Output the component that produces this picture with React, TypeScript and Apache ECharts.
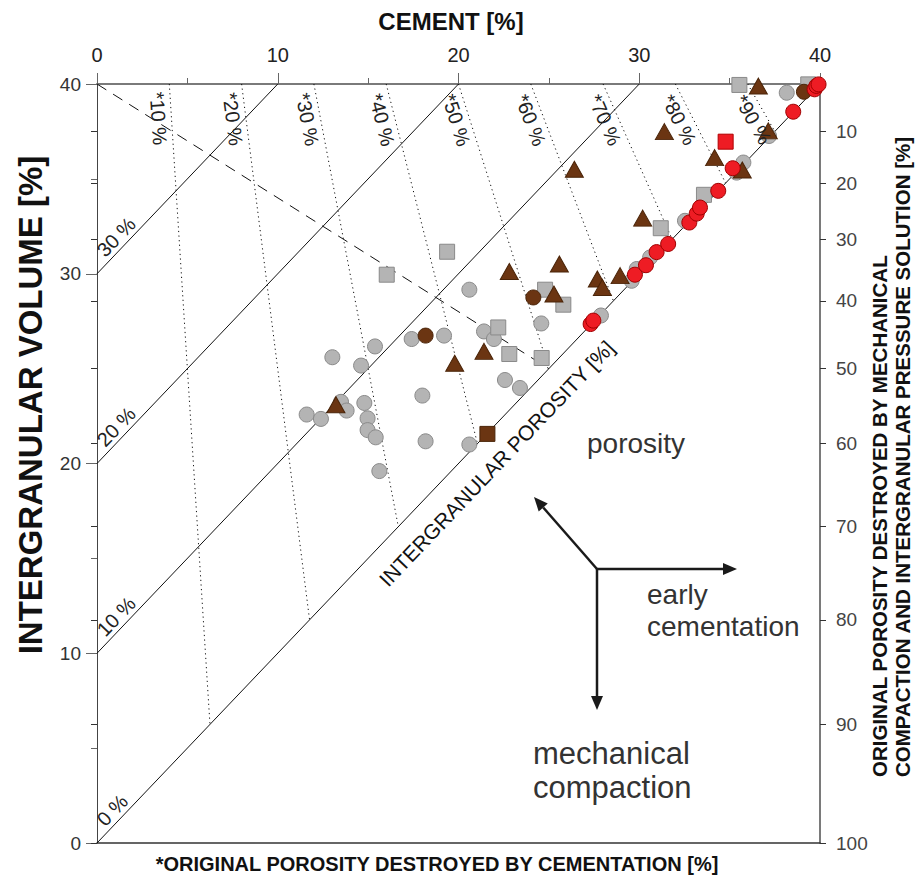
import React, { useEffect, useRef } from 'react';
import * as echarts from 'echarts';

const FONT = '"Liberation Sans", Arial, Helvetica, sans-serif';

// right axis: original porosity destroyed by compaction (non-linear, positions in IGV units)
const compactionTickValues = [37.5, 34.78, 31.82, 28.57, 25, 21.05, 16.67, 11.76, 6.25, 0];
const compactionTickLabels = ['10', '20', '30', '40', '50', '60', '70', '80', '90', '100'];

// solid intergranular porosity lines
const porosityLabels = ['0 %', '10 %', '20 %', '30 %'];
const porosityStarts = [[0, 0], [0, 10], [0, 20], [0, 30]];
const porosityEnds = [[40, 40], [30, 40], [20, 40], [10, 40]];

// dotted lines: original porosity destroyed by cementation
const cementLossLabels = ['*10 %', '*20 %', '*30 %', '*40 %', '*50 %', '*60 %', '*70 %', '*80 %', '*90 %'];
const cementLossTops = [[4, 40], [8, 40], [12, 40], [16, 40], [20, 40], [24, 40], [28, 40], [32, 40], [36, 40]];
const cementLossEnds = [[6.25, 6.25], [11.76, 11.76], [16.67, 16.67], [21.05, 21.05], [25, 25], [28.57, 28.57], [31.82, 31.82], [34.78, 34.78], [37.5, 37.5]];

// dashed line: equal loss by compaction and cementation
const equalLossLine = [[0, 40], [25, 25]];

// data points: [cement %, intergranular volume %]
const grayCircles = [
  [11.6, 22.58], [12.39, 22.35], [13.02, 25.6], [13.5, 23.25], [13.81, 22.79], [14.61, 25.16], [14.79, 23.19],
  [14.97, 22.38], [14.97, 21.76], [15.42, 21.38], [15.38, 26.17], [15.62, 19.6], [17.41, 26.56], [18.0, 23.58],
  [18.18, 21.17], [19.2, 26.74], [20.6, 29.16], [20.6, 21.0], [21.41, 26.96], [21.96, 26.56], [22.57, 24.4],
  [23.4, 23.98], [24.58, 27.38], [27.88, 27.8], [29.58, 29.63], [29.86, 30.25], [30.6, 30.86], [32.53, 32.79],
  [35.39, 35.33], [35.76, 35.86], [37.18, 37.26], [38.16, 39.54],
];
const graySquares = [
  [16.03, 29.95], [19.37, 31.16], [22.2, 27.17], [22.81, 25.77], [24.6, 25.56], [24.79, 29.16], [25.8, 28.37],
  [31.19, 32.4], [33.58, 34.16], [35.54, 39.95], [39.35, 39.98],
];
const brownTriangles = [
  [13.22, 23.1], [19.79, 25.28], [21.41, 25.91], [22.81, 30.12], [25.28, 28.93], [25.58, 30.51], [26.41, 35.51],
  [27.68, 29.72], [27.96, 29.28], [28.94, 29.9], [30.19, 32.93], [31.39, 37.49], [34.17, 36.12], [35.7, 35.47],
  [36.59, 39.89], [37.14, 37.53],
];
const brownCircles = [[18.18, 26.74], [24.14, 28.75], [39.11, 39.59]];
const brownSquares = [[21.6, 21.56]];
const redSquares = [[34.78, 36.96]];
const redCircles = [
  [27.31, 27.35], [27.46, 27.53], [29.76, 29.95], [30.37, 30.45], [30.96, 31.14], [31.6, 31.57], [32.77, 32.7],
  [33.18, 33.17], [33.36, 33.49], [34.37, 34.37], [35.17, 35.56], [38.52, 38.54], [39.7, 39.72], [39.8, 39.9],
  [39.92, 39.98],
];

function compactionLabel(v: number): string {
  let best = 0;
  let bd = Infinity;
  compactionTickValues.forEach((t, i) => {
    const d = Math.abs(t - v);
    if (d < bd) { bd = d; best = i; }
  });
  return compactionTickLabels[best];
}

function lineSeries(data: number[][], type: any) {
  return {
    type: 'line',
    xAxisIndex: 0,
    yAxisIndex: 0,
    data,
    symbol: 'none',
    silent: true,
    z: 1,
    lineStyle: { color: '#111', width: 1, type },
  };
}

function scatter(data: number[][], symbol: string, size: any, color: string, border: string, z: number) {
  return {
    type: 'scatter',
    xAxisIndex: 0,
    yAxisIndex: 0,
    data,
    symbol,
    symbolSize: size,
    clip: false,
    z,
    itemStyle: { color, borderColor: border, borderWidth: 1, opacity: 1 },
  };
}

export default function App() {
  const ref = useRef<HTMLDivElement>(null);
  useEffect(() => {
    if (!ref.current) return;
    const chart = echarts.init(ref.current, undefined, { renderer: 'svg' });
    const series: any[] = [];
    porosityStarts.forEach((s, i) => series.push(lineSeries([s, porosityEnds[i]], 'solid')));
    cementLossTops.forEach((t, i) => series.push(lineSeries([t, cementLossEnds[i]], [1.2, 3.4])));
    series.push(lineSeries(equalLossLine, [11, 8]));
    series.push(scatter(grayCircles, 'circle', 15, '#b4b4b4', '#8a8a8a', 3));
    series.push(scatter(graySquares, 'rect', 15, '#b4b4b4', '#8a8a8a', 4));
    series.push(scatter(brownTriangles, 'triangle', [18, 16], '#6b3512', '#4a2408', 5));
    series.push(scatter(brownCircles, 'circle', 15, '#6b3512', '#4a2408', 5));
    series.push(scatter(brownSquares, 'rect', 15, '#6b3512', '#4a2408', 5));
    series.push(scatter(redSquares, 'rect', 15, '#ee1c24', '#b00000', 6));
    series.push(scatter(redCircles, 'circle', 15, '#ee1c24', '#a00000', 7));

    const option: any = {
      animation: false,
      backgroundColor: '#ffffff',
      textStyle: { fontFamily: FONT },
      grid: { left: 97, top: 84, width: 723, height: 759 },
      xAxis: [
        {
          type: 'value', position: 'top', min: 0, max: 40, interval: 10,
          axisLine: { show: true, onZero: false, lineStyle: { color: '#7a7a7a', width: 2 } },
          axisTick: { show: true, inside: false, length: 11, lineStyle: { color: '#666', width: 1 } },
          minorTick: { show: true, splitNumber: 2, length: 6, lineStyle: { color: '#666', width: 1 } },
          splitLine: { show: false }, minorSplitLine: { show: false },
          axisLabel: { fontSize: 20, color: '#222', margin: 19, fontFamily: FONT },
        },
        {
          type: 'value', position: 'bottom', min: 0, max: 40,
          axisLine: { show: true, onZero: false, lineStyle: { color: '#333', width: 1.5 } },
          axisTick: { show: false }, axisLabel: { show: false }, splitLine: { show: false },
        },
      ],
      yAxis: [
        {
          type: 'value', position: 'left', min: 0, max: 40, interval: 10,
          axisLine: { show: true, onZero: false, lineStyle: { color: '#444', width: 1 } },
          axisTick: { show: true, length: 11, lineStyle: { color: '#666', width: 1 } },
          minorTick: { show: true, splitNumber: 2, length: 6, lineStyle: { color: '#666', width: 1 } },
          splitLine: { show: false },
          axisLabel: { fontSize: 19, color: '#333', margin: 16, fontFamily: FONT },
        },
        {
          type: 'value', position: 'right', min: 0, max: 40,
          axisLine: { show: true, onZero: false, lineStyle: { color: '#7a7a7a', width: 2 } },
          axisTick: { show: true, length: 6, customValues: compactionTickValues, lineStyle: { color: '#333', width: 1 } },
          axisLabel: {
            customValues: compactionTickValues, formatter: (v: number) => compactionLabel(v),
            fontSize: 19, color: '#444', margin: 16, fontFamily: FONT,
          },
          splitLine: { show: false },
        },
        {
          type: 'value', position: 'right', min: 0, max: 40,
          axisLine: { show: false },
          axisTick: { show: true, inside: true, length: 6, customValues: compactionTickValues, lineStyle: { color: '#333', width: 1 } },
          axisLabel: { show: false },
          splitLine: { show: false },
        },
      ],
      series,
    };
    chart.setOption(option);

    const toPx = (p: number[]) => chart.convertToPixel({ xAxisIndex: 0, yAxisIndex: 0 }, p) as number[];
    const txt = (x: number, y: number, text: string, font: string, fill: string, align: string, valign: string, rotation = 0, extra: any = {}) => ({
      type: 'text', x, y, rotation, z: 50, silent: true,
      style: { text, x: 0, y: 0, font, fill, align, verticalAlign: valign, textAlign: align, textVerticalAlign: valign, ...extra },
    });
    const g: any[] = [];

    // titles
    g.push(txt(451, 21, 'CEMENT [%]', `bold 24px ${FONT}`, '#111', 'center', 'middle'));
    g.push(txt(437, 864, '*ORIGINAL POROSITY DESTROYED BY CEMENTATION [%]', `bold 20px ${FONT}`, '#111', 'center', 'middle'));
    g.push(txt(30, 405, 'INTERGRANULAR VOLUME [%]', `bold 33px ${FONT}`, '#111', 'center', 'middle', Math.PI / 2));
    g.push(txt(879, 777, 'ORIGINAL POROSITY DESTROYED BY MECHANICAL', `bold 20.5px ${FONT}`, '#111', 'left', 'middle', Math.PI / 2));
    g.push(txt(902, 777, 'COMPACTION AND INTERGRANULAR PRESSURE SOLUTION [%]', `bold 20.5px ${FONT}`, '#111', 'left', 'middle', Math.PI / 2));

    // porosity line labels
    porosityLabels.forEach((lab, i) => {
      const s = toPx(porosityStarts[i]);
      const e = toPx(porosityEnds[i]);
      const ang = Math.atan2(s[1] - e[1], e[0] - s[0]);
      const ux = Math.cos(ang), uy = -Math.sin(ang);
      const d = 17, off = 1.5;
      const x0 = s[0] + ux * d - Math.sin(ang) * off;
      const y0 = s[1] + uy * d - Math.cos(ang) * off;
      g.push(txt(x0, y0, lab, `20px ${FONT}`, '#222', 'left', 'bottom', ang));
    });

    // cementation loss labels
    cementLossLabels.forEach((lab, i) => {
      const t = toPx(cementLossTops[i]);
      const e = toPx(cementLossEnds[i]);
      const dx = e[0] - t[0], dy = e[1] - t[1];
      const len = Math.hypot(dx, dy);
      const ux = dx / len, uy = dy / len;
      const th = Math.atan2(dy, dx);
      const along = 7, gap = 3;
      const x0 = t[0] + ux * along - Math.sin(th) * gap;
      const y0 = t[1] + uy * along + Math.cos(th) * gap;
      g.push(txt(x0, y0, lab, `20px ${FONT}`, '#222', 'left', 'top', -th));
    });

    // INTERGRANULAR POROSITY label along the 0 % line
    {
      const s = toPx(porosityStarts[0]);
      const e = toPx(porosityEnds[0]);
      const ang = Math.atan2(s[1] - e[1], e[0] - s[0]);
      const m = toPx([21, 21]);
      const gap = 17;
      g.push(txt(m[0] + Math.sin(ang) * gap, m[1] + Math.cos(ang) * gap, 'INTERGRANULAR POROSITY [%]', `21px ${FONT}`, '#111', 'center', 'top', ang));
    }

    // process annotations
    g.push(txt(636, 443, 'porosity', `28px ${FONT}`, '#333', 'center', 'middle'));
    g.push(txt(647, 578, 'early\ncementation', `28px ${FONT}`, '#333', 'left', 'top', 0, { lineHeight: 32 }));
    g.push(txt(533, 736, 'mechanical\ncompaction', `31px ${FONT}`, '#333', 'left', 'top', 0, { lineHeight: 34 }));

    const origin = [597, 569];
    const targets = [[534, 497], [737, 569], [597, 710]];
    targets.forEach((tp) => {
      const dx = tp[0] - origin[0], dy = tp[1] - origin[1];
      const len = Math.hypot(dx, dy);
      const ux = dx / len, uy = dy / len;
      const hl = 14, hw = 6;
      const bx = tp[0] - ux * hl, by = tp[1] - uy * hl;
      g.push({ type: 'line', z: 50, silent: true, shape: { x1: origin[0], y1: origin[1], x2: bx, y2: by }, style: { stroke: '#1a1a1a', lineWidth: 2.5 } });
      g.push({
        type: 'polygon', z: 50, silent: true,
        shape: { points: [[tp[0], tp[1]], [bx - uy * hw, by + ux * hw], [bx + uy * hw, by - ux * hw]] },
        style: { fill: '#1a1a1a' },
      });
    });

    chart.setOption({ graphic: g });
    return () => chart.dispose();
  }, []);
  return <div ref={ref} style={{ position: 'fixed', left: 0, top: 0, width: 916, height: 878, background: '#fff' }} />;
}
